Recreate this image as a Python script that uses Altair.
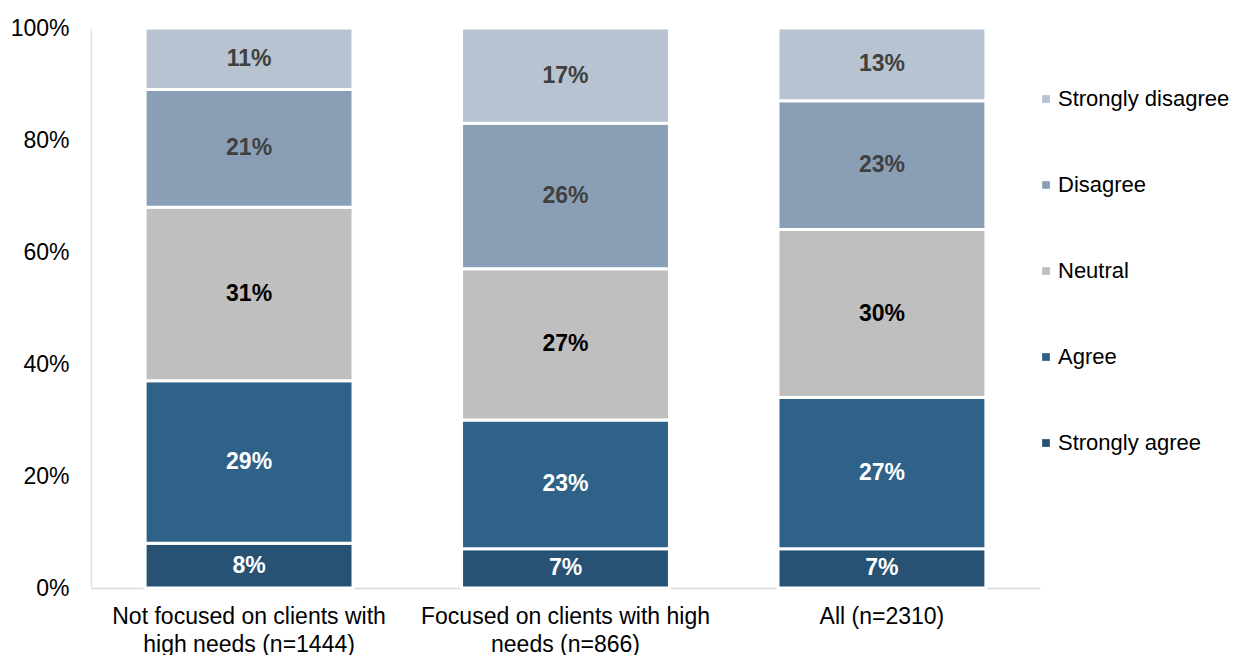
import altair as alt
import pandas as pd

groups = [
    "Not focused on clients with\nhigh needs (n=1444)",
    "Focused on clients with high\nneeds (n=866)",
    "All (n=2310)",
]
responses = ["Strongly agree", "Agree", "Neutral", "Disagree", "Strongly disagree"]
strongly_agree = [8, 7, 7]
agree = [29, 23, 27]
neutral = [31, 27, 30]
disagree = [21, 26, 23]
strongly_disagree = [11, 17, 13]

series = [strongly_agree, agree, neutral, disagree, strongly_disagree]
rows = []
for ri, (resp, vals) in enumerate(zip(responses, series)):
    for g, v in zip(groups, vals):
        rows.append({"group": g, "response": resp, "value": v / 100, "order": ri})
df = pd.DataFrame(rows)

bar_colors = ["#275274", "#2E6288", "#BFBFBF", "#8A9FB6", "#B7C3D0"]
text_colors = ["#FFFFFF", "#FFFFFF", "#000000", "#404040", "#404040"]
legend_order = list(reversed(responses))

FONT = "Liberation Sans"

base = alt.Chart(df).transform_stack(
    stack="value", groupby=["group"], as_=["y0", "y1"], sort=[alt.SortField("order")]
).transform_calculate(mid="(datum.y0 + datum.y1) / 2")

x_enc = alt.X(
    "group:N",
    sort=groups,
    title=None,
    scale=alt.Scale(paddingInner=0.343, paddingOuter=0.171),
    axis=alt.Axis(
        labelExpr="split(datum.label, '\\n')",
        labelAngle=0,
        labelFontSize=23,
        labelFont=FONT,
        labelColor="#000000",
        labelLineHeight=28,
        labelPadding=17,
        ticks=False,
        domainColor="#D9D9D9",
        domainWidth=1.5,
        labelLimit=400,
    ),
)

bars = base.mark_bar(stroke="white", strokeWidth=3).encode(
    x=x_enc,
    y=alt.Y(
        "y0:Q",
        scale=alt.Scale(domain=[0, 1]),
        title=None,
        axis=alt.Axis(
            format=".0%",
            values=[0, 0.2, 0.4, 0.6, 0.8, 1.0],
            labelFontSize=23,
            labelFont=FONT,
            labelColor="#000000",
            labelPadding=22,
            ticks=False,
            grid=False,
            domainColor="#DCE3EA",
            domainWidth=1.5,
        ),
    ),
    y2="y1:Q",
    color=alt.Color(
        "response:N",
        scale=alt.Scale(domain=responses, range=bar_colors),
        sort=legend_order,
        legend=alt.Legend(
            title=None,
            orient="none",
            legendX=944,
            legendY=60,
            symbolType="square",
            symbolSize=60,
            symbolStrokeWidth=0,
            labelFontSize=22,
            labelFont=FONT,
            labelColor="#000000",
            labelOffset=1,
            rowPadding=64,
            labelLimit=300,
            values=legend_order,
        ),
    ),
)

labels = base.mark_text(fontSize=23, fontWeight="bold", font=FONT, baseline="middle").encode(
    x=alt.X("group:N", sort=groups),
    y=alt.Y("mid:Q"),
    text=alt.Text("value:Q", format=".0%"),
    color=alt.Color(
        "response:N",
        scale=alt.Scale(domain=responses, range=text_colors),
        legend=None,
    ),
)

chart = (
    alt.layer(bars, labels)
    .resolve_scale(color="independent")
    .properties(
        width=949,
        height=560,
        autosize=alt.AutoSizeParams(type="none"),
        padding={"left": 83, "top": 20, "right": 197, "bottom": 76},
        background="white",
    )
    .configure_view(stroke=None)
)

chart.save("out.html", embed_options={"renderer": "svg", "actions": False})
